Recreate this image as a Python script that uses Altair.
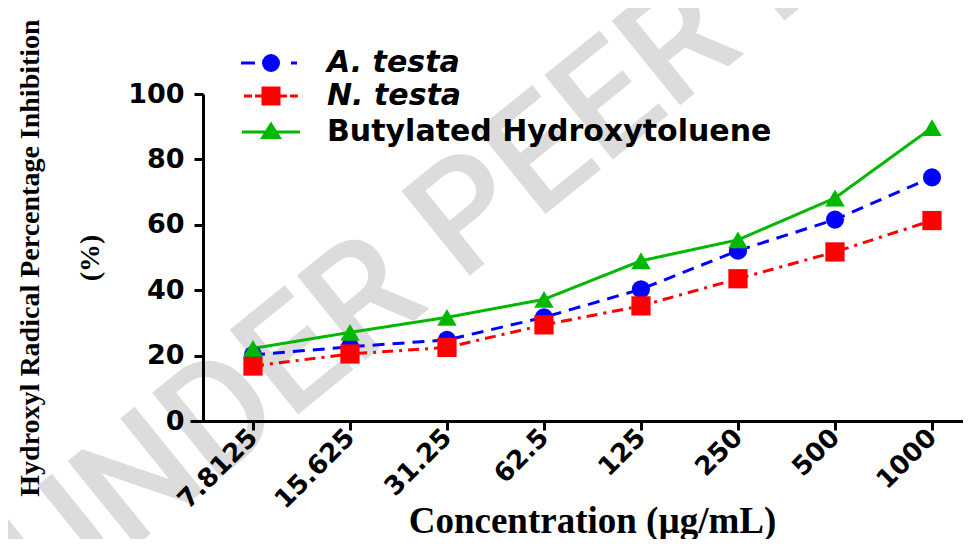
import altair as alt
import pandas as pd

# ---- data ----
concentrations = ["7.8125", "15.625", "31.25", "62.5", "125", "250", "500", "1000"]
series_names = ["A. testa", "N. testa", "Butylated Hydroxytoluene"]
a_testa = [20.2, 22.7, 24.8, 31.7, 40.3, 52.1, 61.6, 74.5]
n_testa = [16.8, 20.5, 22.5, 29.4, 35.2, 43.5, 51.7, 61.3]
bht = [22.2, 27.1, 31.7, 37.2, 49.0, 55.4, 68.2, 89.7]
y_ticks = [0, 20, 40, 60, 80, 100]
watermark_text = ["UNDER PEER REVIEW"]

# ---- styles ----
colors = ["#0000FF", "#FF0000", "#00B800"]
dashes = [[12, 8], [11, 6, 3, 6], [1, 0]]
marker_shapes = ["circle", "square", "triangle-up"]
marker_sizes = [330, 370, 380]
legend_paths = [
    "M-3,0H-1.6M2,0H2.6M0.75,0C0.75,0.414 0.414,0.75 0,0.75C-0.414,0.75 -0.75,0.414 -0.75,0"
    "C-0.75,-0.414 -0.414,-0.75 0,-0.75C0.414,-0.75 0.75,-0.414 0.75,0Z",
    "M-2.7,0H-1.9M-1.6,0H-0.9M0.9,0H1.6M1.9,0H2.7M-0.8,-0.8H0.8V0.8H-0.8Z",
    "M-2.9,-0.15H2.9V0.15H-2.9Z M1.1,0.7L-1.1,0.7L0,-1.05Z",
]

values = [a_testa, n_testa, bht]
rows = []
for s, vals in zip(series_names, values):
    for c, v in zip(concentrations, vals):
        rows.append({"conc": c, "series": s, "value": v})
df = pd.DataFrame(rows)
wm = pd.DataFrame({"t": watermark_text})

W, H = 773, 327
x_enc = alt.X("conc:O", sort=concentrations,
              scale=alt.Scale(domain=concentrations, padding=0.4845, align=0.67),
              axis=alt.Axis(labelAngle=-45, labelAlign="right", labelBaseline="middle",
                            labelFont="DejaVu Sans", labelFontSize=26, labelFontWeight="bold",
                            labelColor="black", labelPadding=3,
                            tickSize=9, tickWidth=3, tickColor="black",
                            domainWidth=3, domainColor="black", zindex=1,
                            title="Concentration (µg/mL)", titleFont="Liberation Serif",
                            titleFontSize=37, titleFontWeight="bold", titleColor="black",
                            titleX=402, titleY=111, titleBaseline="alphabetic",
                            titleAnchor="middle", titleAlign="center"))
y_enc = alt.Y("value:Q", scale=alt.Scale(domain=[0, 100], nice=False),
              axis=alt.Axis(values=y_ticks, grid=False, offset=-13, zindex=1,
                            labelFont="DejaVu Sans", labelFontSize=27, labelFontWeight="bold",
                            labelColor="black", labelPadding=10,
                            tickSize=9, tickWidth=3, tickColor="black",
                            domainWidth=3, domainColor="black",
                            title=["Hydroxyl Radical Percentage Inhibition", "(%)"],
                            titleFont="Liberation Serif", titleFontSize=28,
                            titleFontWeight="bold", titleColor="black",
                            titleLineHeight=60, titleAngle=270,
                            titleAlign="center", titleBaseline="middle",
                            titleX=-173, titleY=H / 2))

watermark = alt.Chart(wm).mark_text(
    angle=321, fontSize=153, font="Roboto", fontWeight=500, color="#DCDCDC",
    align="center", baseline="middle"
).encode(x=alt.value(406), y=alt.value(20), text="t:N")

lines = alt.Chart(df).mark_line(strokeWidth=3).encode(
    x=x_enc, y=y_enc,
    color=alt.Color("series:N", scale=alt.Scale(domain=series_names, range=colors), legend=None),
    strokeDash=alt.StrokeDash("series:N", scale=alt.Scale(domain=series_names, range=dashes), legend=None),
)

point_layers = []
for s, col, shp, sz in zip(series_names, colors, marker_shapes, marker_sizes):
    point_layers.append(
        alt.Chart(df).mark_point(filled=True, shape=shp, size=sz, color=col, opacity=1)
        .encode(x=x_enc, y=y_enc)
        .transform_filter(alt.datum.series == s)
    )

common = dict(
    title=None, orient="none", legendX=66,
    labelFont="DejaVu Sans", labelFontSize=30, labelFontWeight="bold", labelColor="black",
    labelOffset=41, labelLimit=800, rowPadding=3, symbolSize=400, symbolStrokeWidth=3,
    symbolOpacity=1,
)
species = series_names[:2]
leg_species = alt.Legend(legendY=-46, labelFontStyle="italic", **common)
legend_species = alt.Chart(df).mark_point(filled=True, strokeWidth=3, size=400, opacity=0).encode(
    x=x_enc, y=y_enc,
    fill=alt.Fill("series:N", scale=alt.Scale(domain=species, range=colors[:2]), legend=leg_species),
    stroke=alt.Stroke("series:N", scale=alt.Scale(domain=species, range=colors[:2]), legend=leg_species),
    shape=alt.Shape("series:N", scale=alt.Scale(domain=species, range=legend_paths[:2]), legend=leg_species),
).transform_filter(alt.FieldOneOfPredicate(field="series", oneOf=species))

leg_std = alt.Legend(legendY=23, labelFontStyle="normal", symbolType=legend_paths[2],
                     symbolFillColor=colors[2], symbolStrokeColor=colors[2], **common)
legend_std = alt.Chart(df).mark_point(
    filled=True, strokeWidth=3, opacity=0, shape=legend_paths[2], color=colors[2]
).encode(
    x=x_enc, y=y_enc,
    size=alt.Size("series:O", scale=alt.Scale(domain=series_names[2:], range=[400, 400]), legend=leg_std),
).transform_filter(alt.datum.series == series_names[2])

chart = alt.layer(watermark, lines, *point_layers, legend_species, legend_std).properties(
    width=W, height=H,
    autosize=alt.AutoSizeParams(type="none"),
    padding={"left": 182, "top": 86, "right": 0, "bottom": 118},
).configure_view(strokeWidth=0)

chart.save("out.html", embed_options={"renderer": "svg", "actions": False})
